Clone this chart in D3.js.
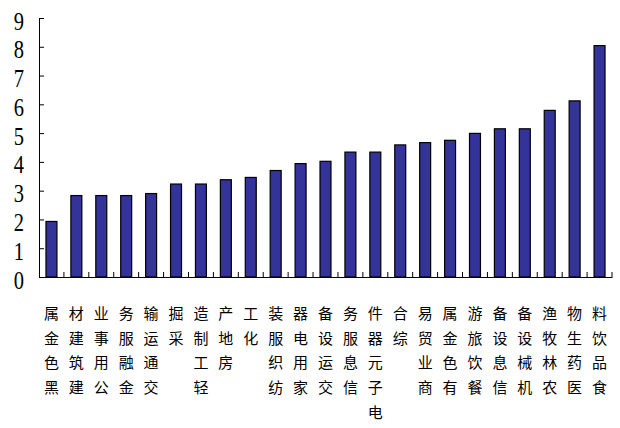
<!DOCTYPE html>
<html>
<head>
<meta charset="utf-8">
<script src="https://cdn.jsdelivr.net/npm/d3@7"></script>
<style>
  body { margin: 0; background: #fff; }
  svg { display: block; }
  .ylab { font-family: "Liberation Serif", "DejaVu Serif", serif; font-size: 25px; }
</style>
</head>
<body>
<div id="chart"></div>
<script>
// industries, sorted by value
const sectors = ["黑色金属", "建筑建材", "公用事业", "金融服务", "交通运输", "采掘", "轻工制造",
    "房地产", "化工", "纺织服装", "家用电器", "交运设备", "信息服务", "电子元器件", "综合",
    "商业贸易", "有色金属", "餐饮旅游", "信息设备", "机械设备", "农林牧渔", "医药生物", "食品饮料"];
const values = [1.93, 2.83, 2.83, 2.83, 2.9, 3.23, 3.23, 3.38, 3.46, 3.7, 3.94, 4.02, 4.34,
    4.34, 4.59, 4.67, 4.75, 4.99, 5.15, 5.15, 5.79, 6.12, 8.04];
const yTicks = [0, 1, 2, 3, 4, 5, 6, 7, 8, 9];

const data = sectors.map((s, i) => ({ name: s, value: values[i] }));

const W = 620, H = 428;
const plot = { left: 39, right: 612, top: 18, bottom: 277 };

const svg = d3.select("#chart")
    .append("svg")
    .attr("width", W)
    .attr("height", H);

const x = d3.scaleBand()
    .domain(sectors)
    .range([plot.left, plot.right])
    .paddingInner(0.56)
    .paddingOuter(0.28);

const y = d3.scaleLinear()
    .domain([0, 9])
    .range([plot.bottom, plot.top]);

// bars
svg.append("g")
    .selectAll("rect")
    .data(data)
    .join("rect")
    .attr("x", d => x(d.name))
    .attr("y", d => y(d.value))
    .attr("width", x.bandwidth())
    .attr("height", d => y(0) - y(d.value))
    .attr("fill", "#333399")
    .attr("stroke", "#000")
    .attr("stroke-width", 1.2);

// y axis, ticks pointing inward
const yAxis = svg.append("g")
    .attr("transform", `translate(${plot.left},0)`)
    .call(d3.axisLeft(y).tickValues(yTicks).tickSize(-5).tickFormat(d3.format("d")));
yAxis.attr("font-family", null).attr("font-size", null);
yAxis.select(".domain").attr("stroke", "#000");
yAxis.selectAll(".tick line").attr("stroke", "#000");
yAxis.selectAll(".tick text")
    .attr("class", "ylab")
    .attr("x", null)
    .attr("dy", null)
    .attr("text-anchor", "middle")
    .attr("transform", "translate(-20,11) scale(0.82,1)")
    .attr("fill", "#000");

// x axis line
const xAxis = svg.append("g")
    .attr("transform", `translate(0,${plot.bottom})`)
    .call(d3.axisBottom(x).tickSize(0).tickFormat(""));
xAxis.select(".domain").attr("stroke", "#000");

// category boundary ticks (pointing up)
const step = x.step();
svg.append("g")
    .selectAll("line")
    .data(sectors)
    .join("line")
    .attr("x1", d => x(d) + x.bandwidth() + step * x.paddingInner() / 2)
    .attr("x2", d => x(d) + x.bandwidth() + step * x.paddingInner() / 2)
    .attr("y1", plot.bottom)
    .attr("y2", plot.bottom - 5)
    .attr("stroke", "#000");

// vertical labels: read bottom-to-top, last char at top
const rowGap = 24.7, firstRow = 319;
const labels = svg.append("g")
    .style("font-family", "'Noto Sans CJK SC', sans-serif")
    .style("font-size", "15px")
    .attr("fill", "#000")
    .attr("text-anchor", "middle");
data.forEach(d => {
    const chars = Array.from(d.name).reverse();
    chars.forEach((c, i) => {
        labels.append("text")
            .attr("x", x(d.name) + x.bandwidth() / 2)
            .attr("y", firstRow + i * rowGap)
            .text(c);
    });
});
</script>
</body>
</html>
